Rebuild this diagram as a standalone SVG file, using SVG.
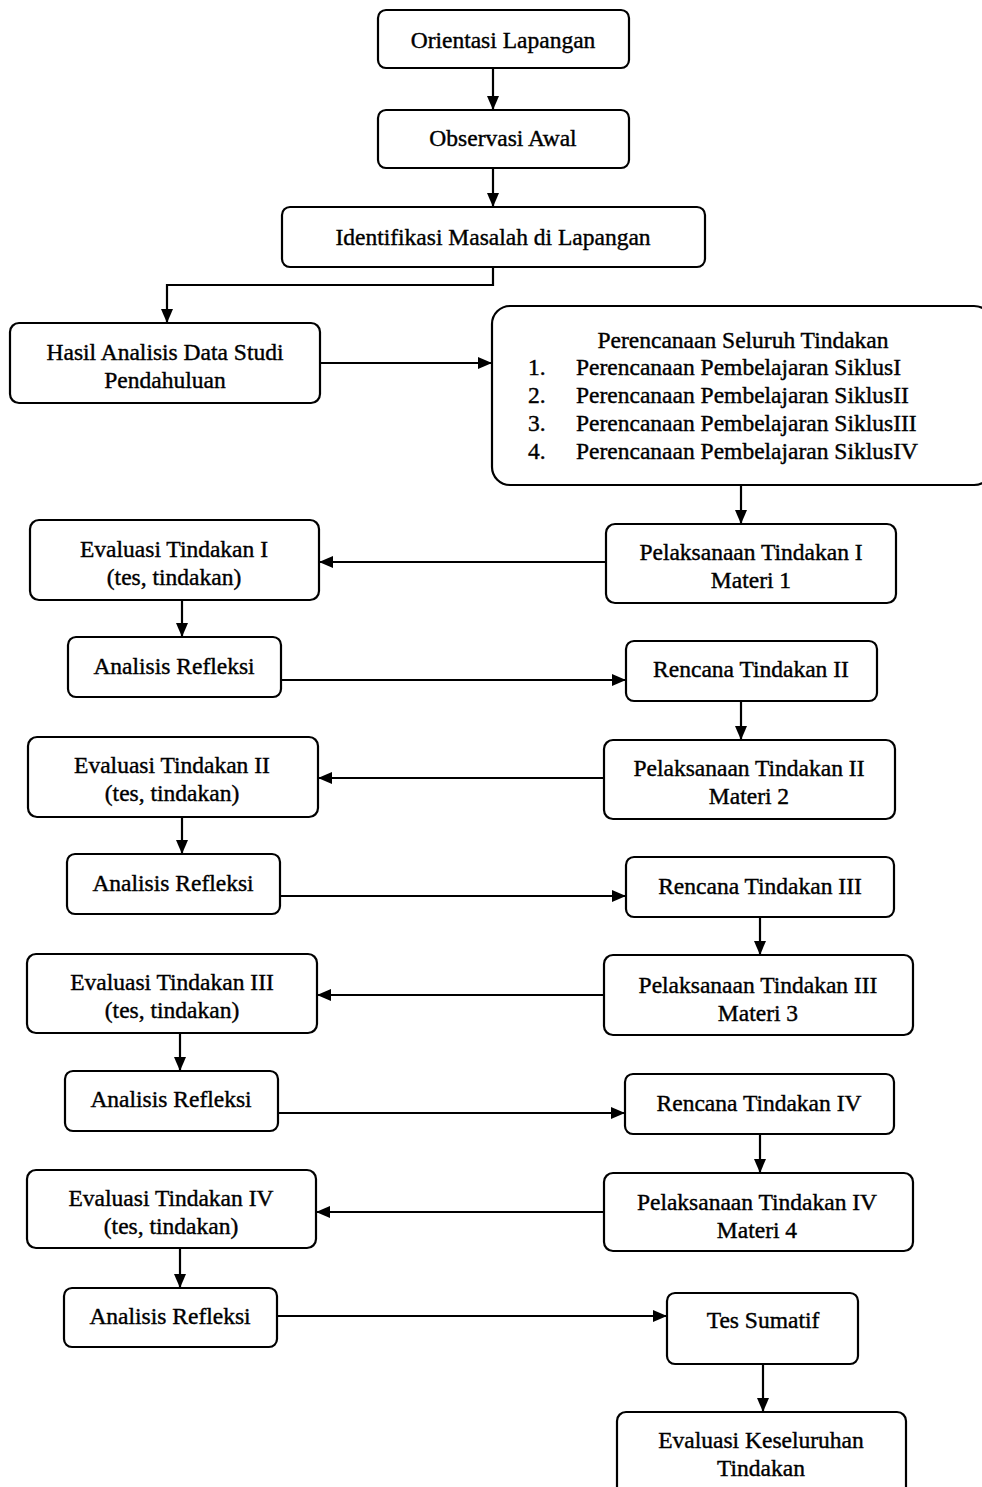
<svg xmlns="http://www.w3.org/2000/svg" width="982" height="1487" viewBox="0 0 982 1487">
<style>
.b{fill:#fff;stroke:#000;stroke-width:2.2}
.t{font-family:"Liberation Serif","Times New Roman",serif;font-size:23.5px;fill:#000;stroke:#000;stroke-width:0.4;text-anchor:middle}
.l{text-anchor:start}
.c{fill:none;stroke:#000;stroke-width:2.2}
</style>
<defs>
<marker id="a" viewBox="0 0 14 12" refX="14" refY="6" markerWidth="14" markerHeight="12" markerUnits="userSpaceOnUse" orient="auto">
<path d="M0,0 L14,6 L0,12 Z" fill="#000"/>
</marker>
</defs>
<g id="connectors">
<path class="c" d="M493,68 V110" marker-end="url(#a)"/>
<path class="c" d="M493,168 V207" marker-end="url(#a)"/>
<path class="c" d="M493,267 V285 H167 V323" marker-end="url(#a)"/>
<path class="c" d="M320,363 H492" marker-end="url(#a)"/>
<path class="c" d="M741,485 V524" marker-end="url(#a)"/>
<path class="c" d="M606,562 H319" marker-end="url(#a)"/>
<path class="c" d="M182,600 V637" marker-end="url(#a)"/>
<path class="c" d="M281,680 H626" marker-end="url(#a)"/>
<path class="c" d="M741,701 V740" marker-end="url(#a)"/>
<path class="c" d="M604,778 H318" marker-end="url(#a)"/>
<path class="c" d="M182,817 V854" marker-end="url(#a)"/>
<path class="c" d="M280,896 H626" marker-end="url(#a)"/>
<path class="c" d="M760,917 V955" marker-end="url(#a)"/>
<path class="c" d="M604,995 H317" marker-end="url(#a)"/>
<path class="c" d="M180,1033 V1071" marker-end="url(#a)"/>
<path class="c" d="M278,1113 H625" marker-end="url(#a)"/>
<path class="c" d="M760,1134 V1173" marker-end="url(#a)"/>
<path class="c" d="M604,1212 H316" marker-end="url(#a)"/>
<path class="c" d="M180,1248 V1288" marker-end="url(#a)"/>
<path class="c" d="M277,1316 H667" marker-end="url(#a)"/>
<path class="c" d="M763,1364 V1412" marker-end="url(#a)"/>
</g>
<g id="n1"><rect class="b" x="378" y="10" width="251" height="58" rx="8"/><text class="t" x="503" y="48">Orientasi Lapangan</text></g>
<g id="n2"><rect class="b" x="378" y="110" width="251" height="58" rx="8"/><text class="t" x="503" y="146">Observasi Awal</text></g>
<g id="n3"><rect class="b" x="282" y="207" width="423" height="60" rx="8"/><text class="t" x="493" y="245">Identifikasi Masalah di Lapangan</text></g>
<g id="n4"><rect class="b" x="10" y="323" width="310" height="80" rx="9"/><text class="t" x="165" y="360">Hasil Analisis Data Studi</text><text class="t" x="165" y="388">Pendahuluan</text></g>
<g id="n5"><rect class="b" x="492" y="306" width="500" height="179" rx="18"/>
<text class="t" x="743" y="348">Perencanaan Seluruh Tindakan</text>
<text class="t l" x="528" y="375">1.</text><text class="t l" x="576" y="375">Perencanaan Pembelajaran SiklusI</text>
<text class="t l" x="528" y="403">2.</text><text class="t l" x="576" y="403">Perencanaan Pembelajaran SiklusII</text>
<text class="t l" x="528" y="431">3.</text><text class="t l" x="576" y="431">Perencanaan Pembelajaran SiklusIII</text>
<text class="t l" x="528" y="459">4.</text><text class="t l" x="576" y="459">Perencanaan Pembelajaran SiklusIV</text></g>
<g id="n6"><rect class="b" x="30" y="520" width="289" height="80" rx="9"/><text class="t" x="174" y="557">Evaluasi Tindakan I</text><text class="t" x="174" y="585">(tes, tindakan)</text></g>
<g id="n7"><rect class="b" x="606" y="524" width="290" height="79" rx="9"/><text class="t" x="751" y="560">Pelaksanaan Tindakan I</text><text class="t" x="751" y="588">Materi 1</text></g>
<g id="n8"><rect class="b" x="68" y="637" width="213" height="60" rx="8"/><text class="t" x="174" y="674">Analisis Refleksi</text></g>
<g id="n9"><rect class="b" x="626" y="641" width="251" height="60" rx="8"/><text class="t" x="751" y="677">Rencana Tindakan II</text></g>
<g id="n10"><rect class="b" x="28" y="737" width="290" height="80" rx="9"/><text class="t" x="172" y="773">Evaluasi Tindakan II</text><text class="t" x="172" y="801">(tes, tindakan)</text></g>
<g id="n11"><rect class="b" x="604" y="740" width="291" height="79" rx="9"/><text class="t" x="749" y="776">Pelaksanaan Tindakan II</text><text class="t" x="749" y="804">Materi 2</text></g>
<g id="n12"><rect class="b" x="67" y="854" width="213" height="60" rx="8"/><text class="t" x="173" y="891">Analisis Refleksi</text></g>
<g id="n13"><rect class="b" x="626" y="857" width="268" height="60" rx="8"/><text class="t" x="760" y="894">Rencana Tindakan III</text></g>
<g id="n14"><rect class="b" x="27" y="954" width="290" height="79" rx="9"/><text class="t" x="172" y="990">Evaluasi Tindakan III</text><text class="t" x="172" y="1018">(tes, tindakan)</text></g>
<g id="n15"><rect class="b" x="604" y="955" width="309" height="80" rx="9"/><text class="t" x="758" y="993">Pelaksanaan Tindakan III</text><text class="t" x="758" y="1021">Materi 3</text></g>
<g id="n16"><rect class="b" x="65" y="1071" width="213" height="60" rx="8"/><text class="t" x="171" y="1107">Analisis Refleksi</text></g>
<g id="n17"><rect class="b" x="625" y="1074" width="269" height="60" rx="8"/><text class="t" x="759" y="1111">Rencana Tindakan IV</text></g>
<g id="n18"><rect class="b" x="27" y="1170" width="289" height="78" rx="9"/><text class="t" x="171" y="1206">Evaluasi Tindakan IV</text><text class="t" x="171" y="1234">(tes, tindakan)</text></g>
<g id="n19"><rect class="b" x="604" y="1173" width="309" height="78" rx="9"/><text class="t" x="757" y="1210">Pelaksanaan Tindakan IV</text><text class="t" x="757" y="1238">Materi 4</text></g>
<g id="n20"><rect class="b" x="64" y="1288" width="213" height="59" rx="8"/><text class="t" x="170" y="1324">Analisis Refleksi</text></g>
<g id="n21"><rect class="b" x="667" y="1293" width="191" height="71" rx="8"/><text class="t" x="763" y="1328">Tes Sumatif</text></g>
<g id="n22"><rect class="b" x="617" y="1412" width="289" height="85" rx="9"/><text class="t" x="761" y="1448">Evaluasi Keseluruhan</text><text class="t" x="761" y="1476">Tindakan</text></g>
</svg>
